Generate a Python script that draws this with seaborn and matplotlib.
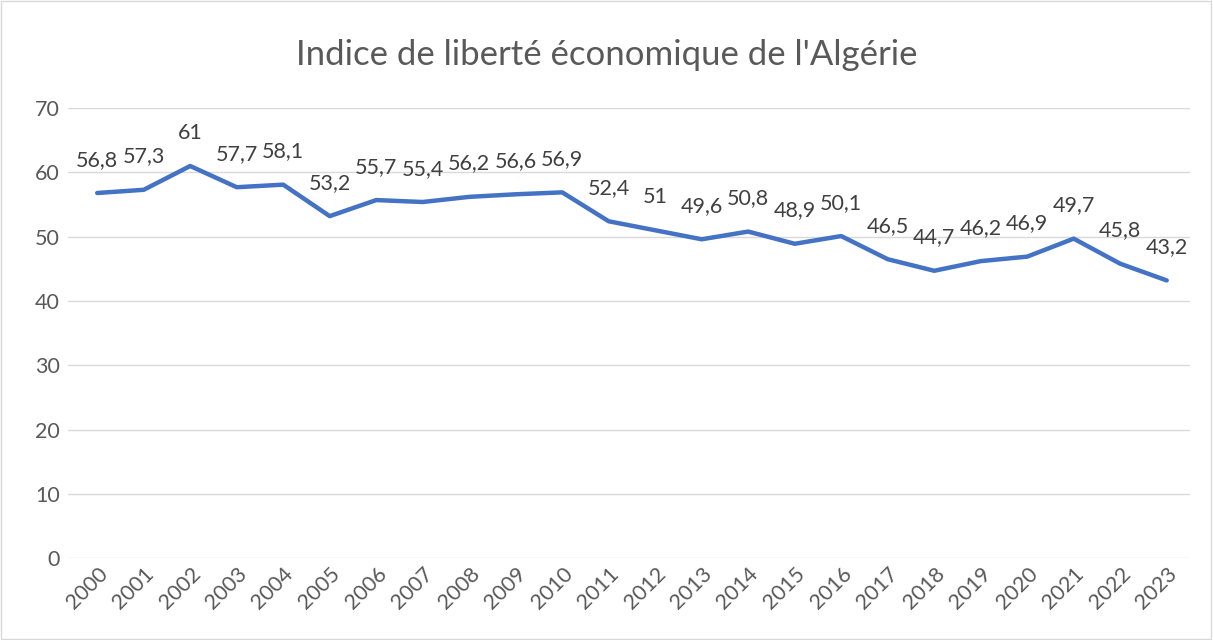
import matplotlib
matplotlib.use("Agg")
import matplotlib.pyplot as plt
import seaborn as sns
import pandas as pd
from matplotlib.patches import Rectangle

# ================= 数据 =================
years = [str(y) for y in range(2000, 2024)]
values = [56.8, 57.3, 61, 57.7, 58.1, 53.2, 55.7, 55.4, 56.2, 56.6, 56.9,
          52.4, 51, 49.6, 50.8, 48.9, 50.1, 46.5, 44.7, 46.2, 46.9, 49.7,
          45.8, 43.2]
title = "Indice de liberté économique de l'Algérie"

df = pd.DataFrame({'Année': years, 'Indice': values})

# ================= 风格 =================
sns.set_theme(style="white")
plt.rcParams['font.family'] = ['Lato', 'DejaVu Sans']
TEXT = '#595959'
LABEL = '#404040'

fig = plt.figure(figsize=(12.13, 6.4), dpi=100)
ax = fig.add_axes([0.056, 0.128, 0.925, 0.703])

sns.lineplot(data=df, x='Année', y='Indice', ax=ax, color='#4472C4',
             linewidth=3.2, sort=False)

# 数据标签
for i, v in enumerate(values):
    ax.annotate(f"{v:g}".replace('.', ','), (i, v), xytext=(0, 24),
                textcoords='offset points', ha='center', va='center',
                fontsize=15.5, color=LABEL)

ax.set_xlim(-0.63, len(years) - 0.5)
ax.set_ylim(0, 70)
ax.set_yticks(range(0, 71, 10))
ax.grid(axis='y', color='#D9D9D9', linewidth=1)
ax.set_axisbelow(True)
for s in ax.spines.values():
    s.set_visible(False)
ax.set_xlabel('')
ax.set_ylabel('')
ax.tick_params(axis='y', labelsize=15.5, colors=TEXT, length=0, pad=6)
ax.tick_params(axis='x', labelsize=15.5, colors=TEXT, length=0, pad=4)
plt.setp(ax.get_xticklabels(), rotation=45, ha='right', rotation_mode='anchor')

fig.text(0.5, 0.914, title, ha='center', va='center', fontsize=25, color=TEXT)

# 外框
fig.add_artist(Rectangle((0.001, 0.002), 0.997, 0.996, transform=fig.transFigure,
                         fill=False, edgecolor='#D9D9D9', linewidth=1))

fig.savefig('out.png', dpi=100)
